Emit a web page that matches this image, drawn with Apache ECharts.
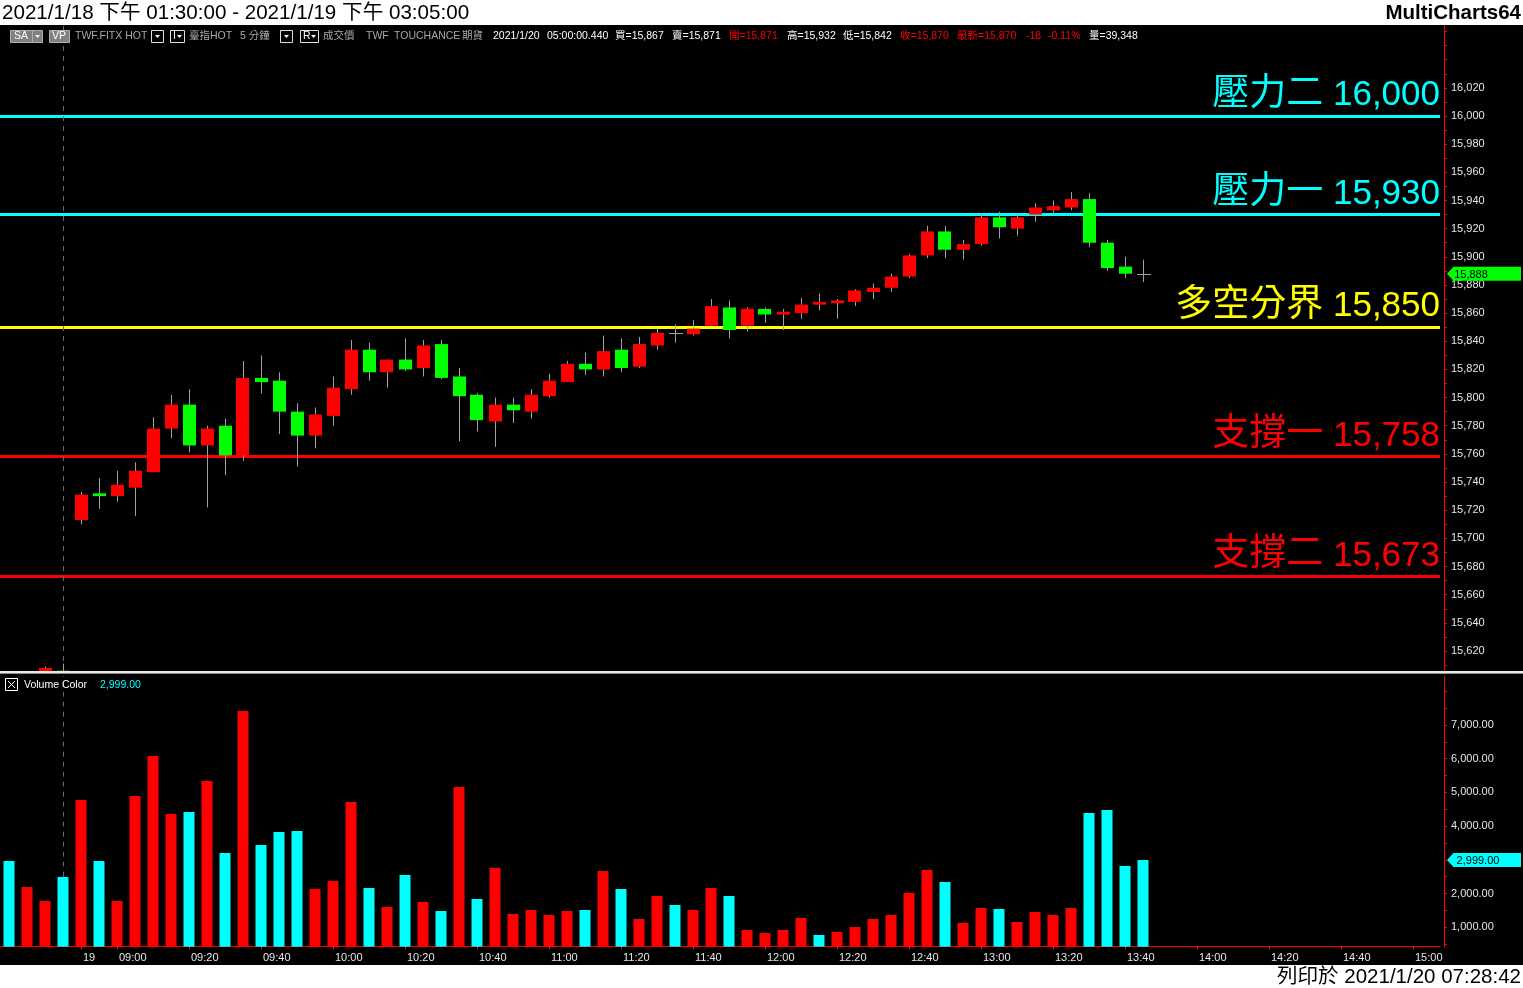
<!DOCTYPE html>
<html><head><meta charset="utf-8">
<script src="https://cdn.jsdelivr.net/npm/echarts@6/dist/echarts.min.js"></script>
<style>html,body{margin:0;padding:0;background:#fff;}#c{width:1523px;height:988px;}</style>
</head><body><div id="c"></div>
<script>
// ---------- DATA ----------
const categories = ['04:45','04:50','04:55','05:00',
 '08:50','08:55',
 '09:00','09:05','09:10','09:15','09:20','09:25','09:30','09:35','09:40','09:45','09:50','09:55',
 '10:00','10:05','10:10','10:15','10:20','10:25','10:30','10:35','10:40','10:45','10:50','10:55',
 '11:00','11:05','11:10','11:15','11:20','11:25','11:30','11:35','11:40','11:45','11:50','11:55',
 '12:00','12:05','12:10','12:15','12:20','12:25','12:30','12:35','12:40','12:45','12:50','12:55',
 '13:00','13:05','13:10','13:15','13:20','13:25','13:30','13:35','13:40','13:45','13:50','13:55',
 '14:00','14:05','14:10','14:15','14:20','14:25','14:30','14:35','14:40','14:45','14:50','14:55',
 '15:00','15:05'];
const openPrices = [15598,15590,15600,15606,15713,15732,15730,15736,15747,15778,15795,15766,15780,15759,15814,15812,15790,15773,15787,15806,15834,15818,15827,15821,15838,15815,15802,15783,15795,15790,15801,15811,15824,15820,15834,15822,15837,15846,15845,15851,15864,15851,15863,15859,15860,15866,15867,15868,15875,15878,15886,15901,15918,15905,15909,15928,15920,15930,15933,15935,15941,15910,15893,15888];
const closePrices = [15590,15600,15608,15603,15731,15730,15738,15748,15778,15795,15766,15778,15759,15814,15811,15790,15773,15788,15807,15834,15818,15827,15820,15837,15814,15801,15784,15795,15791,15802,15812,15824,15820,15833,15821,15838,15846,15846,15849,15865,15848,15863,15859,15861,15866,15868,15869,15876,15878,15886,15901,15918,15905,15909,15928,15921,15928,15935,15936,15941,15910,15892,15888,15888];
const lowPrices = [15585,15588,15598,15600,15710,15721,15726,15716,15747,15771,15761,15722,15745,15755,15803,15774,15751,15764,15780,15802,15812,15807,15819,15815,15813,15769,15776,15765,15782,15785,15800,15811,15816,15815,15818,15821,15834,15839,15844,15851,15842,15847,15853,15848,15856,15862,15856,15865,15870,15875,15885,15899,15899,15898,15908,15913,15915,15925,15930,15933,15907,15890,15885,15882];
const highPrices = [15600,15603,15609,15611,15733,15743,15748,15754,15786,15802,15806,15780,15785,15826,15830,15818,15796,15793,15815,15841,15839,15827,15842,15841,15841,15821,15803,15800,15800,15806,15817,15826,15832,15844,15842,15843,15849,15852,15855,15870,15869,15864,15864,15863,15871,15874,15870,15877,15881,15888,15902,15922,15922,15912,15931,15932,15931,15938,15940,15946,15945,15912,15900,15898];
const volumes = [2967,2196,1780,2493,4777,2967,1780,4896,6083,4362,4421,5341,3205,7418,3442,3828,3858,2136,2374,4718,2166,1602,2552,1751,1484,5163,1840,2760,1395,1513,1365,1484,1513,2671,2136,1246,1929,1662,1513,2166,1929,920,831,920,1276,772,861,1009,1246,1365,2018,2700,2344,1128,1573,1543,1157,1454,1365,1573,4392,4481,2819,2999];
const volumeUp = [0,1,1,0,1,0,1,1,1,1,0,1,0,1,0,0,0,1,1,1,0,1,0,1,0,1,0,1,1,1,1,1,0,1,0,1,1,0,1,1,0,1,1,1,1,0,1,1,1,1,1,1,0,1,1,0,1,1,1,1,0,0,0,0];
const levelNames = ['壓力二','壓力一','多空分界','支撐一','支撐二'];
const levelValues = [16000,15930,15850,15758,15673];
const priceTickLabels = [15620,15640,15660,15680,15700,15720,15740,15760,15780,15800,15820,15840,15860,15880,15900,15920,15940,15960,15980,16000,16020];
const priceMinorTicks = [15610,15620,15630,15640,15650,15660,15670,15680,15690,15700,15710,15720,15730,15740,15750,15760,15770,15780,15790,15800,15810,15820,15830,15840,15850,15860,15870,15880,15890,15900,15910,15920,15930,15940,15950,15960,15970,15980,15990,16000,16010,16020,16030,16040,16050,16060];
const volumeTickLabels = [1000,2000,3000,4000,5000,6000,7000];
const volumeMinorTicks = [500,1000,1500,2000,2500,3000,3500,4000,4500,5000,5500,6000,6500,7000,7500,8000];
const xLabelCategories = ['08:50','09:00','09:20','09:40','10:00','10:20','10:40','11:00','11:20','11:40','12:00','12:20','12:40','13:00','13:20','13:40','14:00','14:20','14:40','15:00'];
const xLabelTexts = ['19','09:00','09:20','09:40','10:00','10:20','10:40','11:00','11:20','11:40','12:00','12:20','12:40','13:00','13:20','13:40','14:00','14:20','14:40','15:00'];
const sessionBreak = '05:00';

// ---------- STYLE ----------
const UP = '#ff0000', DOWN = '#00ff00', WICK = '#a0a0a0', VOL_DOWN = '#00ffff';
const levelColors = ['#00ffff','#00ffff','#ffff00','#ff0000','#ff0000'];
const FONT = "'Liberation Sans','Noto Sans CJK TC',sans-serif";
const fmt = v => Number(v).toLocaleString('en-US');
const fmt2 = v => Number(v).toLocaleString('en-US',{minimumFractionDigits:2,maximumFractionDigits:2});

const candleData = openPrices.map((o,i)=>[i,o,closePrices[i],lowPrices[i],highPrices[i]]);
const volData = volumes.map((v,i)=>({value:v,itemStyle:{color: volumeUp[i]?UP:VOL_DOWN}}));
const lastIdx = closePrices.length-1;

function renderCandle(params, api){
  const x = api.value(0), o = api.value(1), c = api.value(2), l = api.value(3), h = api.value(4);
  const pO = api.coord([x,o]), pC = api.coord([x,c]), pL = api.coord([x,l]), pH = api.coord([x,h]);
  const w = Math.round(api.size([1,0])[0]*0.72);
  const cx = Math.round(pO[0]) + 0.5;
  const left = Math.round(pO[0] - w/2);
  const ch = [{type:'line',shape:{x1:cx,y1:pH[1],x2:cx,y2:pL[1]},style:{stroke:WICK,lineWidth:1}}];
  if (o === c) {
    const yy = Math.round(pO[1])+0.5;
    ch.push({type:'line',shape:{x1:left,y1:yy,x2:left+w+1,y2:yy},style:{stroke:WICK,lineWidth:1}});
  } else {
    let top = Math.min(pO[1],pC[1]), bot = Math.max(pO[1],pC[1]);
    if (bot-top < 2) bot = top + 2;
    ch.push({type:'rect',shape:{x:left,y:top,width:w,height:bot-top},style:{fill: c>o?UP:DOWN}});
  }
  return {type:'group',children:ch};
}

const arrowPath = 'path://M0,7 L7,0 L80,0 L80,14 L7,14 Z';
const labelSet = new Set(xLabelCategories);

const chart = echarts.init(document.getElementById('c'), null, {renderer:'canvas'});
const HF = '10.5px '+FONT;
const hdr = (x, text, color) => ({type:'text', x:x, y:36.5, style:{text:text, fill:color, font:HF, verticalAlign:'middle'}, z:10});
const box = (x, w, fill, stroke) => ({type:'rect', shape:{x:x+0.5,y:30.5,width:w,height:12}, style:{fill:fill, stroke:stroke, lineWidth:1}, z:9});
const tri = (x) => ({type:'polygon', shape:{points:[[x,35],[x+5,35],[x+2.5,38]]}, style:{fill:'#ffffff'}, z:10});

const levelLabel = (i, v) => ({
  show:true, position:'insideEndTop', distance:[0,3],
  formatter:'{c|'+levelNames[i]+'} {n|'+fmt(v)+'}',
  rich:{
    c:{color:levelColors[i], fontSize:37, fontFamily:FONT, verticalAlign:'bottom', lineHeight:40},
    n:{color:levelColors[i], fontSize:35, fontFamily:FONT, verticalAlign:'bottom', lineHeight:40}
  },
  color:levelColors[i], fontSize:35, fontFamily:FONT
});

const option = {
  backgroundColor:'#000',
  animation:false,
  grid:[
    {left:0, top:25, width:1440, height:646},
    {left:0, top:676, width:1440, height:270.7}
  ],
  xAxis:[
    {type:'category', gridIndex:0, data:categories, boundaryGap:true, axisLine:{show:false}, axisTick:{show:false}, axisLabel:{show:false}, splitLine:{show:false}},
    {type:'category', gridIndex:1, data:categories, boundaryGap:true,
     axisLine:{show:true, lineStyle:{color:'#ff0000', width:1}},
     axisTick:{show:true, alignWithLabel:true, length:3, lineStyle:{color:'#ff0000'}, interval:(i,v)=>labelSet.has(v)},
     axisLabel:{show:true, color:'#e6e6e6', fontSize:11, fontFamily:FONT, align:'left', margin:6, padding:[0,0,0,2],
       interval:(i,v)=>labelSet.has(v), formatter:(v)=>{const j=xLabelCategories.indexOf(v); return j>=0?xLabelTexts[j]:'';}},
     splitLine:{show:false}}
  ],
  yAxis:[
    {type:'value', gridIndex:0, position:'right', offset:4, min:15605.8, max:16064.64, scale:true,
     axisLine:{show:true, lineStyle:{color:'#ff0000', width:1}},
     axisTick:{show:true, length:3, inside:false, lineStyle:{color:'#ff0000'}, customValues:priceMinorTicks},
     axisLabel:{show:true, color:'#e6e6e6', fontSize:11, fontFamily:FONT, margin:7, customValues:priceTickLabels, formatter:v=>fmt(v)},
     splitLine:{show:false}},
    {type:'value', gridIndex:1, position:'right', offset:4, min:424, max:8453, scale:true,
     axisLine:{show:true, lineStyle:{color:'#ff0000', width:1}},
     axisTick:{show:true, length:3, lineStyle:{color:'#ff0000'}, customValues:volumeMinorTicks},
     axisLabel:{show:true, color:'#e6e6e6', fontSize:11, fontFamily:FONT, margin:7, customValues:volumeTickLabels, formatter:v=>fmt2(v)},
     splitLine:{show:false}}
  ],
  series:[
    {type:'custom', xAxisIndex:0, yAxisIndex:0, data:candleData, renderItem:renderCandle, clip:true,
     encode:{x:0, y:[1,2,3,4]}, z:5,
     markLine:{silent:true, symbol:['none','none'], animation:false, precision:0,
       data:[
         ...levelValues.map((v,i)=>({yAxis:v, name:levelNames[i],
            lineStyle:{color:levelColors[i], width:3, type:'solid'},
            label:levelLabel(i, v)})),
         {xAxis:sessionBreak, lineStyle:{color:'#6a6a6a', width:1, type:[5,5]}, label:{show:false}}
       ]},
     markPoint:{silent:true, animation:false,
       data:[{coord:[categories[categories.length-1], closePrices[lastIdx]], symbol:arrowPath, symbolSize:[74,14], symbolKeepAspect:false, symbolOffset:[53,0],
         itemStyle:{color:'#00ff00'}, label:{show:true, position:'inside', offset:[-13,1], formatter:fmt(closePrices[lastIdx]), color:'#000', fontSize:11, fontFamily:FONT}}]}
    },
    {type:'bar', xAxisIndex:1, yAxisIndex:1, data:volData, barWidth:11, clip:true, z:5,
     markLine:{silent:true, symbol:['none','none'], animation:false,
       data:[{xAxis:sessionBreak, lineStyle:{color:'#6a6a6a', width:1, type:[5,5]}, label:{show:false}}]},
     markPoint:{silent:true, animation:false,
       data:[{coord:[categories[categories.length-1], volumes[lastIdx]], symbol:arrowPath, symbolSize:[74,14], symbolKeepAspect:false, symbolOffset:[53,0],
         itemStyle:{color:'#00ffff'}, label:{show:true, position:'inside', offset:[-6,1], formatter:fmt2(volumes[lastIdx]), color:'#000', fontSize:11, fontFamily:FONT}}]}
    }
  ],
  graphic:[
    {type:'rect', shape:{x:0,y:0,width:1523,height:25}, style:{fill:'#ffffff'}, z:8},
    {type:'rect', shape:{x:0,y:965,width:1523,height:23}, style:{fill:'#ffffff'}, z:8},
    {type:'text', x:2, y:13, style:{text:'2021/1/18 下午 01:30:00 - 2021/1/19 下午 03:05:00', fill:'#000', font:'20.6px '+FONT, verticalAlign:'middle'}, z:10},
    {type:'text', x:1521, y:13, style:{text:'MultiCharts64', fill:'#000', font:'bold 20.5px '+FONT, align:'right', verticalAlign:'middle'}, z:10},
    {type:'text', x:1521, y:977, style:{text:'列印於 2021/1/20 07:28:42', fill:'#000', font:'20.5px '+FONT, align:'right', verticalAlign:'middle'}, z:10},
    // separator between panes
    {type:'rect', shape:{x:0,y:671,width:1523,height:2}, style:{fill:'#e8e8e8'}, z:9},
    {type:'rect', shape:{x:0,y:673,width:1523,height:1}, style:{fill:'#8a8a8a'}, z:9},
    // header row
    box(10,22,'#808080','#b0b0b0'), hdr(14,'SA','#ffffff'),
    box(32,10,'#808080','#b0b0b0'), tri(35),
    box(49,20,'#808080','#b0b0b0'), hdr(52,'VP','#ffffff'),
    hdr(75,'TWF.FITX HOT','#a8a8a8'),
    box(151,12,'#000','#e0e0e0'), tri(155),
    box(170,14,'#000','#e0e0e0'), hdr(173,'I','#ffffff'), tri(177),
    hdr(189,'臺指HOT','#a8a8a8'), hdr(240,'5 分鐘','#a8a8a8'),
    box(280,12,'#000','#e0e0e0'), tri(284),
    box(300,18,'#000','#e0e0e0'), hdr(303,'R','#ffffff'), tri(311),
    hdr(323,'成交價','#a8a8a8'), hdr(366,'TWF','#a8a8a8'), hdr(394,'TOUCHANCE','#a8a8a8'), hdr(462,'期貨','#a8a8a8'),
    hdr(493,'2021/1/20','#ffffff'), hdr(547,'05:00:00.440','#ffffff'),
    hdr(615,'買=15,867','#ffffff'), hdr(672,'賣=15,871','#ffffff'),
    hdr(729,'開=15,871','#ff0000'), hdr(787,'高=15,932','#ffffff'), hdr(843,'低=15,842','#ffffff'),
    hdr(900,'收=15,870','#ff0000'), hdr(957,'最新=15,870','#ff0000'), hdr(1026,'-18','#ff0000'), hdr(1048,'-0.11%','#ff0000'),
    hdr(1089,'量=39,348','#ffffff'),
    // volume legend
    {type:'rect', shape:{x:5.5,y:678.5,width:12,height:12}, style:{fill:'none', stroke:'#ffffff', lineWidth:1}, z:10},
    {type:'line', shape:{x1:8,y1:681,x2:15,y2:688}, style:{stroke:'#ffffff', lineWidth:1}, z:10},
    {type:'line', shape:{x1:15,y1:681,x2:8,y2:688}, style:{stroke:'#ffffff', lineWidth:1}, z:10},
    {type:'text', x:24, y:685, style:{text:'Volume Color', fill:'#ffffff', font:'10.5px '+FONT, verticalAlign:'middle'}, z:10},
    {type:'text', x:100, y:685, style:{text:fmt2(volumes[lastIdx]), fill:'#00ffff', font:'10.5px '+FONT, verticalAlign:'middle'}, z:10}
  ]
};
chart.setOption(option);
</script>
</body></html>
